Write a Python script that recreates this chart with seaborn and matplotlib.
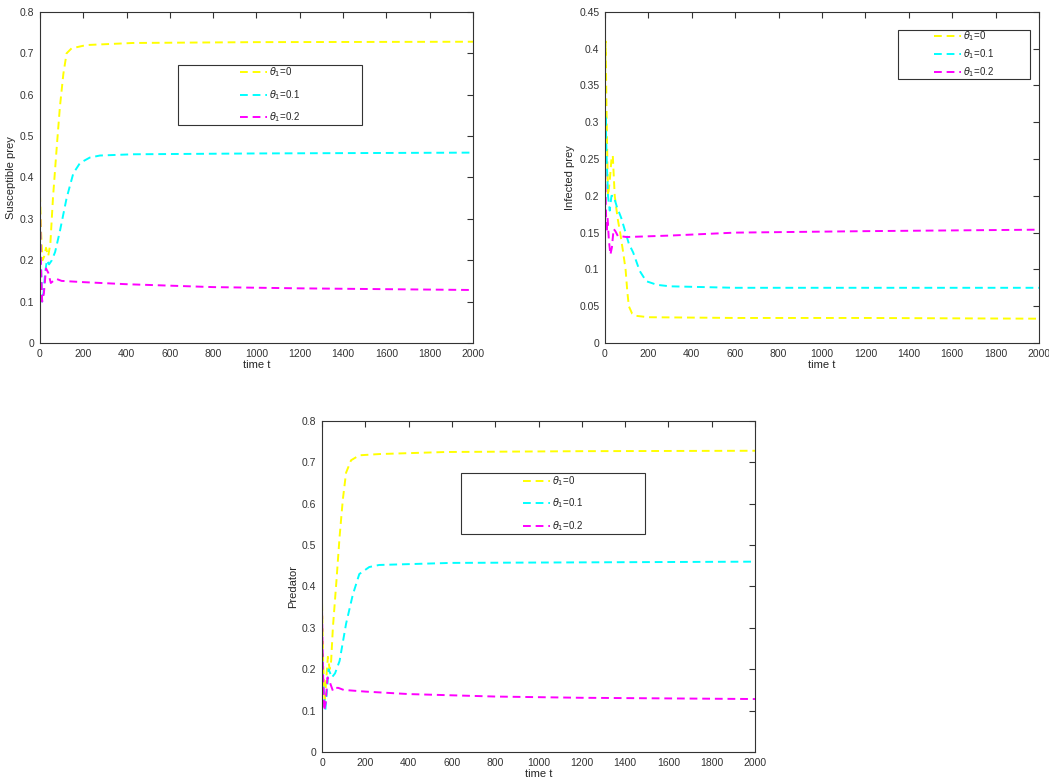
import pandas as pd
import matplotlib
matplotlib.use('Agg')
import matplotlib.pyplot as plt
from matplotlib.patches import Rectangle
from matplotlib.ticker import FuncFormatter
import seaborn as sns

labels = [r'$\theta_1$=0', r'$\theta_1$=0.1', r'$\theta_1$=0.2']
colors = ['#ffff00', '#00ffff', '#ff00ff']

# Susceptible prey
s_t0 = [0, 5, 12, 20, 28, 38, 48, 60, 77, 92, 108, 123, 146, 215, 430, 1000, 2000]
s_v0 = [0.36, 0.27, 0.2, 0.21, 0.23, 0.21, 0.24, 0.35, 0.47, 0.57, 0.65, 0.70, 0.712, 0.72, 0.725, 0.727, 0.728]
s_t1 = [0, 4, 10, 16, 24, 32, 42, 55, 70, 92, 123, 154, 185, 230, 277, 430, 1000, 2000]
s_v1 = [0.3, 0.2, 0.1, 0.12, 0.17, 0.2, 0.19, 0.2, 0.22, 0.27, 0.35, 0.41, 0.435, 0.448, 0.453, 0.456, 0.458, 0.46]
s_t2 = [0, 4, 10, 18, 28, 38, 50, 62, 75, 100, 200, 400, 800, 1200, 2000]
s_v2 = [0.33, 0.2, 0.1, 0.12, 0.18, 0.17, 0.145, 0.15, 0.155, 0.15, 0.147, 0.142, 0.135, 0.132, 0.128]

# Infected prey
i_t0 = [0, 3, 8, 14, 22, 30, 36, 45, 58, 70, 83, 95, 103, 110, 125, 140, 200, 600, 1200, 2000]
i_v0 = [0.35, 0.41, 0.3, 0.2, 0.22, 0.25, 0.255, 0.2, 0.17, 0.15, 0.125, 0.1, 0.07, 0.05, 0.04, 0.037, 0.035, 0.034, 0.034, 0.033]
i_t1 = [0, 3, 8, 14, 22, 30, 40, 55, 75, 95, 110, 130, 160, 190, 240, 300, 600, 2000]
i_v1 = [0.28, 0.31, 0.25, 0.2, 0.18, 0.2, 0.2, 0.185, 0.17, 0.15, 0.135, 0.123, 0.098, 0.084, 0.079, 0.077, 0.075, 0.075]
i_t2 = [0, 3, 7, 12, 18, 25, 32, 40, 48, 60, 75, 100, 300, 600, 1200, 2000]
i_v2 = [0.25, 0.2, 0.15, 0.17, 0.14, 0.12, 0.13, 0.155, 0.152, 0.145, 0.145, 0.144, 0.146, 0.15, 0.152, 0.154]

# Predator
p_t0 = [0, 5, 12, 20, 27, 35, 42, 50, 66, 81, 96, 111, 134, 172, 264, 570, 1200, 2000]
p_v0 = [0.36, 0.22, 0.12, 0.18, 0.23, 0.2, 0.22, 0.3, 0.41, 0.52, 0.61, 0.675, 0.705, 0.717, 0.72, 0.725, 0.727, 0.728]
p_t1 = [0, 5, 15, 23, 30, 38, 45, 60, 81, 111, 142, 172, 218, 264, 600, 2000]
p_v1 = [0.25, 0.17, 0.1, 0.15, 0.2, 0.19, 0.18, 0.19, 0.22, 0.31, 0.38, 0.43, 0.447, 0.452, 0.457, 0.46]
p_t2 = [0, 4, 10, 17, 25, 35, 50, 62, 75, 100, 200, 400, 800, 1200, 2000]
p_v2 = [0.34, 0.2, 0.1, 0.12, 0.18, 0.17, 0.148, 0.155, 0.155, 0.15, 0.146, 0.14, 0.134, 0.131, 0.128]

sns.set_style('white')
plt.rcParams['font.family'] = ['Liberation Sans', 'DejaVu Sans']
plt.rcParams['xtick.direction'] = 'in'
plt.rcParams['ytick.direction'] = 'in'
plt.rcParams['xtick.top'] = True
plt.rcParams['ytick.right'] = True
plt.rcParams['xtick.major.size'] = 4
plt.rcParams['ytick.major.size'] = 4

fig = plt.figure(figsize=(10.49, 7.8), dpi=100)

panels = [
    ([0.0381, 0.5603, 0.4128, 0.4244], 'Susceptible prey', 0.8, 0.1,
     [(s_t0, s_v0), (s_t1, s_v1), (s_t2, s_v2)], (0.319, 0.659, 0.425, 0.181), 0.9),
    ([0.5767, 0.5603, 0.4137, 0.4244], 'Infected prey', 0.45, 0.05,
     [(i_t0, i_v0), (i_t1, i_v1), (i_t2, i_v2)], (0.675, 0.798, 0.304, 0.148), 0.45),
    ([0.307, 0.0359, 0.4128, 0.4244], 'Predator', 0.8, 0.1,
     [(p_t0, p_v0), (p_t1, p_v1), (p_t2, p_v2)], (0.321, 0.659, 0.425, 0.184), 0.9),
]

for rect, ylab, ymax, ystep, series, box, lspace in panels:
    ax = fig.add_axes(rect)
    for (t, v), c, lab in zip(series, colors, labels):
        df = pd.DataFrame({'t': t, 'v': v})
        sns.lineplot(data=df, x='t', y='v', color=c, label=lab, ax=ax,
                     linewidth=1.4, dashes=False, linestyle=(0, (4, 2.5)))
    ax.set_xlim(0, 2000)
    ax.set_ylim(0, ymax)
    ax.set_xticks(range(0, 2001, 200))
    n = int(round(ymax / ystep))
    ax.set_yticks([round(k * ystep, 3) for k in range(n + 1)])
    ax.yaxis.set_major_formatter(FuncFormatter(lambda x, p: '%g' % x))
    ax.tick_params(labelsize=7.5, colors='#333333', width=0.8, pad=4)
    for sp in ax.spines.values():
        sp.set_color('#333333')
        sp.set_linewidth(0.8)
    ax.set_xlabel('time t', fontsize=8, color='#262626', labelpad=1)
    ax.set_ylabel(ylab, fontsize=8, color='#262626', labelpad=3)
    ax.add_patch(Rectangle((box[0], box[1]), box[2], box[3], transform=ax.transAxes,
                           fill=False, edgecolor='#333333', linewidth=0.8, zorder=5))
    ax.legend(loc='center', bbox_to_anchor=(box[0] + box[2] / 2, box[1] + box[3] / 2),
              frameon=False, fontsize=7, handlelength=2.8, labelspacing=lspace,
              handletextpad=0.2, borderpad=0.2)

fig.savefig('out.png', dpi=100)
